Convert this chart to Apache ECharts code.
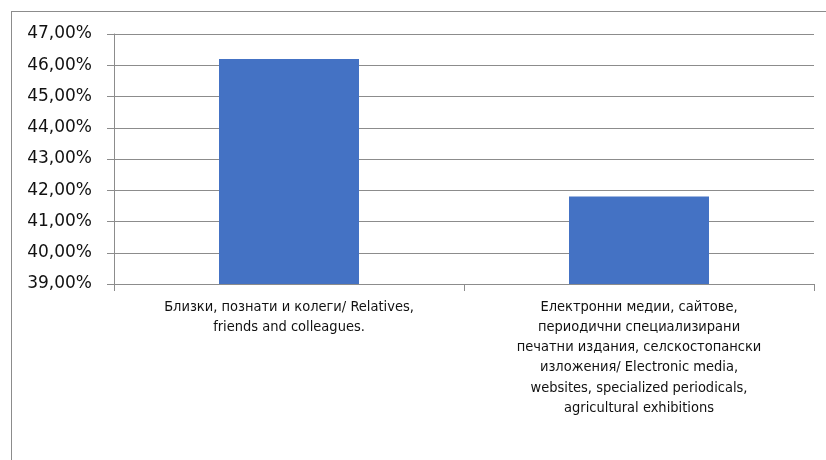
<!DOCTYPE html>
<html>
<head>
<meta charset="utf-8">
<script src="https://cdn.jsdelivr.net/npm/echarts@6/dist/echarts.min.js"></script>
<style>
  html, body { margin: 0; padding: 0; background: #fff; }
  #frame { position: absolute; left: 11px; top: 11px; width: 830px; height: 460px; border-left: 1px solid #8c8c8c; border-top: 1px solid #8c8c8c; box-sizing: border-box; }
  #chart { position: absolute; left: 0; top: 0; width: 826px; height: 460px; }
</style>
</head>
<body>
<div id="frame"></div>
<div id="chart"></div>
<script>
// Sources of information (share of respondents, %)
const categories = [
  'Близки, познати и колеги/ Relatives,\nfriends and colleagues.',
  'Електронни медии, сайтове,\nпериодични специализирани\nпечатни издания, селскостопански\nизложения/ Electronic media,\nwebsites, specialized periodicals,\nagricultural exhibitions'
];
const shares = [46.2, 41.8];
const yMin = 39;
const yMax = 47;
const yStep = 1;

const chart = echarts.init(document.getElementById('chart'), null, { renderer: 'canvas' });

chart.setOption({
  animation: false,
  grid: { left: 114, right: 12, top: 34, bottom: 176, containLabel: false },
  xAxis: {
    type: 'category',
    data: categories,
    boundaryGap: true,
    axisLine: { show: true, lineStyle: { color: '#8c8c8c', width: 1 } },
    axisTick: { show: true, length: 7, lineStyle: { color: '#8c8c8c' } },
    axisLabel: {
      interval: 0,
      margin: 13,
      color: '#111',
      fontFamily: '"Liberation Sans Narrow", "DejaVu Sans Condensed", sans-serif',
      fontSize: 14.5,
      lineHeight: 20.2,
      align: 'center'
    }
  },
  yAxis: {
    type: 'value',
    min: yMin,
    max: yMax,
    interval: yStep,
    axisLine: { show: true, lineStyle: { color: '#8c8c8c', width: 1 } },
    axisTick: { show: true, length: 7, lineStyle: { color: '#8c8c8c' } },
    splitLine: { show: true, lineStyle: { color: '#8c8c8c', width: 1 } },
    axisLabel: {
      margin: 22,
      color: '#111',
      fontFamily: '"DejaVu Sans", sans-serif',
      fontSize: 17,
      formatter: v => v.toFixed(2).replace('.', ',') + '%'
    }
  },
  series: [{
    type: 'bar',
    data: shares,
    barWidth: '40%',
    itemStyle: { color: '#4472c4' }
  }]
});
</script>
</body>
</html>
